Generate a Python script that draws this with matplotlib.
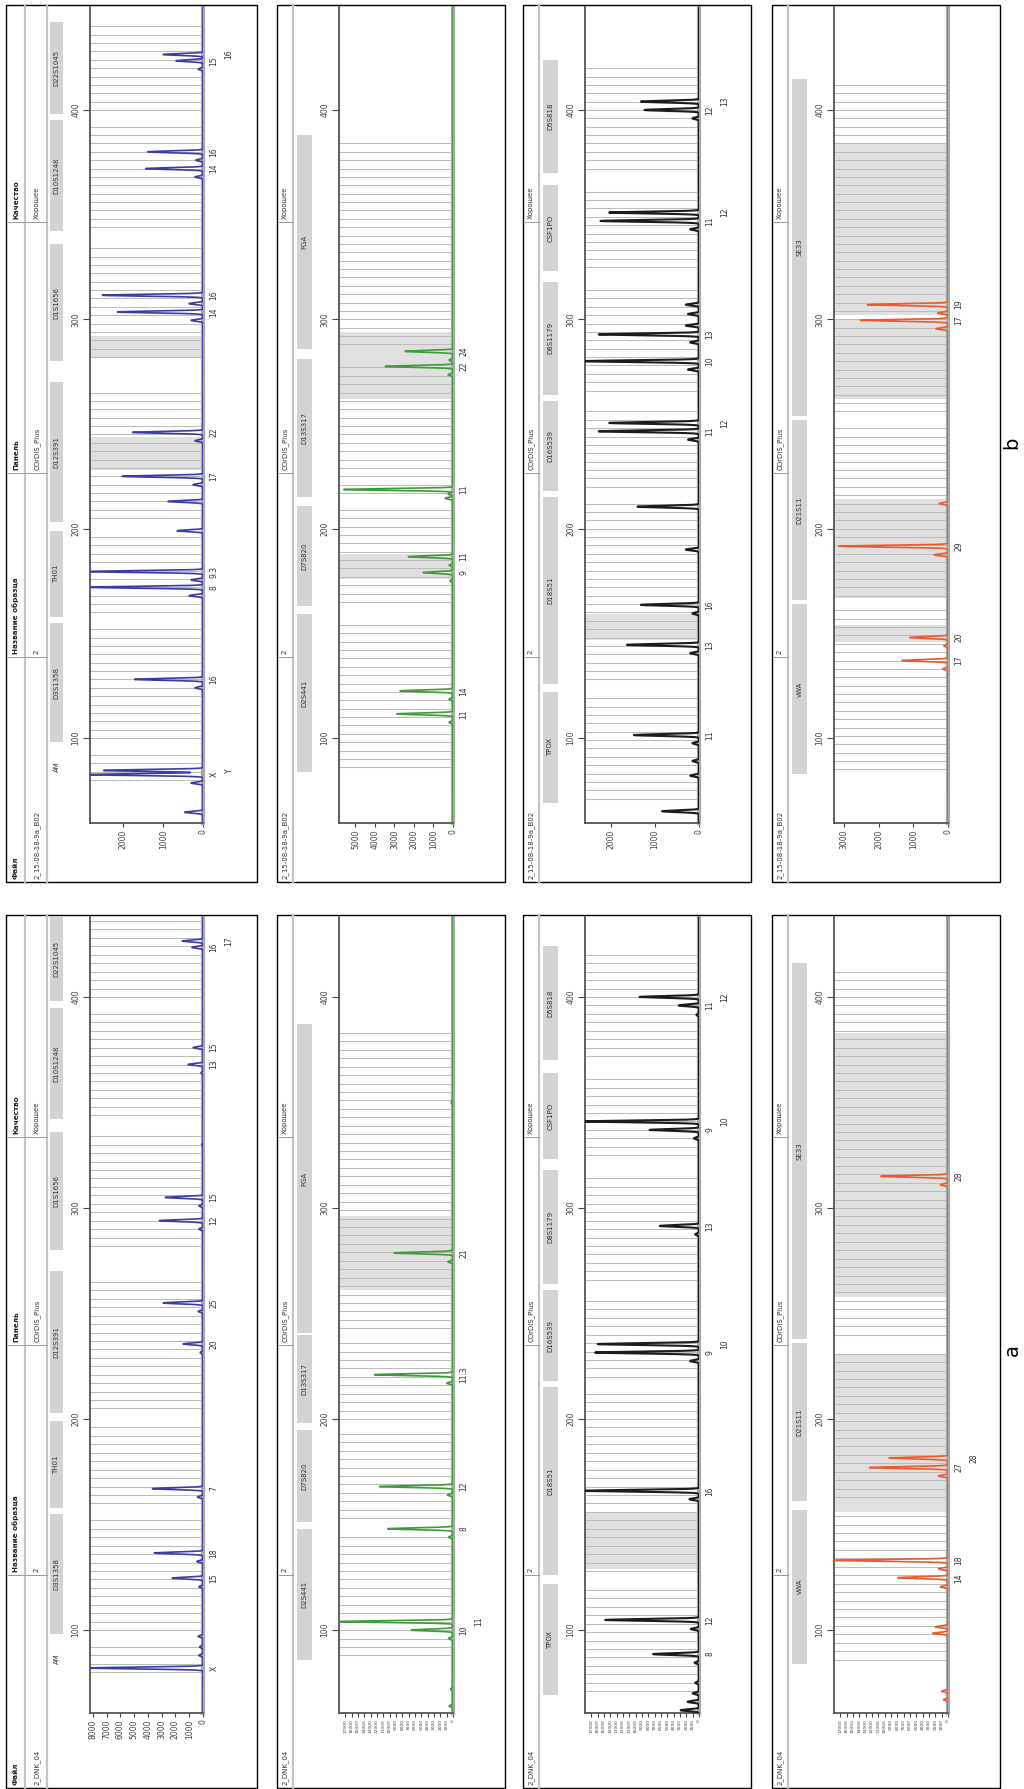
import numpy as np
import matplotlib
matplotlib.use("Agg")
import matplotlib.pyplot as plt
from matplotlib.patches import Rectangle
from matplotlib.lines import Line2D
from matplotlib.transforms import blended_transform_factory

plt.rcParams['font.family'] = ['Liberation Sans Narrow', 'DejaVu Sans']

# ---------------- data ----------------
TITLES = ['Файл', 'Название образца', 'Панель', 'Качество']
FILE_B = '2_15-08-18-9a_B02'
FILE_A = '2_DNK_04'
SAMPLE = '2'
KIT = 'COrDIS_Plus'
QUALITY = 'Хорошее'

BLUE_LOCI = ['AM', 'D3S1358', 'TH01', 'D12S391', 'D1S1656', 'D10S1248', 'D22S1045']
BLUE_RANGES = [(78, 95), (98, 155), (158, 199), (203, 270), (280, 336), (342, 395), (398, 442)]
GREEN_LOCI = ['D2S441', 'D7S820', 'D13S317', 'FGA']
GREEN_RANGES_B = [(84, 159), (163, 211), (215, 281), (286, 388)]
GREEN_RANGES_A = [(86, 148), (151, 195), (198, 240), (241, 387)]
BLACK_LOCI = ['TPOX', 'D18S51', 'D16S539', 'D8S1179', 'CSF1PO', 'D5S818']
BLACK_RANGES = [(69, 122), (126, 215), (218, 261), (264, 318), (323, 364), (370, 424)]
RED_LOCI = ['vWA', 'D21S11', 'SE33']
RED_RANGES_B = [(83, 164), (166, 252), (254, 415)]
RED_RANGES_A = [(84, 157), (161, 236), (238, 416)]

# sample b
B_BLUE_ALLELES = ['X', 'Y', '16', '8', '9.3', '17', '22', '14', '16', '14', '16', '15', '16']
B_BLUE_BP = [82.5, 84.5, 128, 172, 179.5, 225, 246, 303.5, 311.5, 372, 380, 423.5, 426.5]
B_BLUE_RFU = [2900, 2500, 1720, 2900, 2900, 2030, 1770, 2150, 2530, 1440, 1390, 680, 1000]
B_BLUE_MINOR_BP = [64.5, 78.5, 124, 168, 175.5, 199, 213, 221, 242, 299.5, 307.5, 368, 376, 419.5]
B_BLUE_MINOR_RFU = [460, 300, 200, 350, 300, 650, 880, 250, 200, 300, 350, 200, 180, 120]
B_BLUE_SHADE = [(228, 244), (282, 292)]
B_BLUE_TICKS = [0, 1000, 2000]

B_GREEN_ALLELES = ['11', '14', '9', '11', '11', '22', '24']
B_GREEN_BP = [111.5, 122.5, 179, 186.6, 218.7, 277.5, 284.7]
B_GREEN_RFU = [2880, 2710, 1530, 2290, 5600, 3470, 2460]
B_GREEN_MINOR_BP = [107.5, 118.5, 175, 182.5, 214.5, 216.5, 273.5, 280.5]
B_GREEN_MINOR_RFU = [200, 200, 150, 200, 400, 250, 250, 200]
B_GREEN_SHADE = [(262, 294), (176, 188)]
B_GREEN_TICKS = [0, 1000, 2000, 3000, 4000, 5000]

B_BLACK_ALLELES = ['11', '13', '16', '11', '12', '10', '13', '11', '12', '12', '13']
B_BLACK_BP = [101.4, 144.5, 163.6, 246.5, 250.5, 280, 292.8, 347, 351, 400, 404]
B_BLACK_RFU = [1480, 1640, 1320, 2280, 2040, 2640, 2280, 2240, 2040, 1240, 1320]
B_BLACK_MINOR_BP = [65, 82, 89, 97.5, 140.5, 159.5, 190, 210.5, 242.5, 276, 289, 297, 302.5, 307, 343, 396]
B_BLACK_MINOR_RFU = [840, 200, 150, 150, 200, 150, 300, 1400, 250, 250, 200, 300, 250, 300, 200, 150]
B_BLACK_SHADE = [(147, 159)]
B_BLACK_TICKS = [0, 1000, 2000]

B_RED_ALLELES = ['17', '20', '29', '17', '19']
B_RED_BP = [137, 148, 191.6, 299.5, 307]
B_RED_RFU = [1330, 1100, 3150, 2520, 2330]
B_RED_MINOR_BP = [133, 144, 187.5, 212, 295.5, 303]
B_RED_MINOR_RFU = [150, 120, 400, 250, 350, 300]
B_RED_SHADE = [(146, 154), (167, 214), (262, 300), (302, 384)]
B_RED_TICKS = [0, 1000, 2000, 3000]

# sample a
A_BLUE_ALLELES = ['X', '15', '18', '7', '20', '25', '12', '15', '13', '15', '16', '17']
A_BLUE_BP = [82, 124.6, 136.5, 167, 235.6, 255, 294, 305, 368, 376, 423.5, 426.5]
A_BLUE_RFU = [8200, 2230, 3530, 3670, 1440, 2880, 3170, 2740, 1080, 720, 800, 1510]
A_BLUE_MINOR_BP = [88, 92, 97, 120.5, 132.5, 163, 231.5, 251, 290, 301, 330, 364]
A_BLUE_MINOR_RFU = [300, 250, 350, 300, 450, 400, 200, 350, 300, 300, 100, 150]
A_BLUE_SHADE = []
A_BLUE_TICKS = [0, 1000, 2000, 3000, 4000, 5000, 6000, 7000, 8000]

A_GREEN_ALLELES = ['10', '11', '8', '12', '11.3', '21']
A_GREEN_BP = [100, 104, 148, 168, 221, 278.7]
A_GREEN_RFU = [6600, 18000, 10300, 11600, 12400, 9300]
A_GREEN_MINOR_BP = [64, 72, 96, 144, 164, 217, 274.5, 350]
A_GREEN_MINOR_RFU = [600, 400, 700, 700, 900, 1000, 800, 300]
A_GREEN_SHADE = [(261, 296)]

A_BLACK_ALLELES = ['8', '12', '16', '9', '10', '13', '9', '10', '11', '12']
A_BLACK_BP = [88.6, 104.8, 166, 231.5, 235.5, 291.5, 337, 341, 396, 400]
A_BLACK_RFU = [7250, 14800, 18000, 16400, 16000, 6200, 7800, 18000, 3200, 9400]
A_BLACK_MINOR_BP = [62, 66, 70, 75, 84.5, 100.5, 162, 227.5, 287.5, 333, 391.5]
A_BLACK_MINOR_RFU = [2900, 1800, 1000, 600, 700, 1300, 1500, 1400, 600, 800, 400]
A_BLACK_SHADE = [(129, 156)]

A_RED_ALLELES = ['14', '18', '27', '28', '28']
A_RED_BP = [124.8, 133, 177, 181.5, 315]
A_RED_RFU = [7900, 18000, 12400, 9300, 10600]
A_RED_MINOR_BP = [67, 71, 98.5, 101.5, 120.5, 129, 173, 311]
A_RED_MINOR_RFU = [700, 1000, 2400, 2000, 1200, 1500, 1500, 1200]
A_RED_SHADE = [(156, 231), (258, 383)]

A_DENSE_TICKS = list(range(0, 18000, 1000))

COLORS = ['#3a3ca6', '#3f9b37', '#1c1c1c', '#ec5a2e']

# ---------------- layout (pixels) ----------------
W, H = 1024, 1789
COL_X = [(6, 257), (277, 505), (523, 751), (772, 1000)]
ROWS = {
    'b': dict(top=5, bottom=882, plot_top=7, plot_bottom=823, bp=(59.4, 449.2),
              file=FILE_B, bounds=(657, 473, 222), label_y=443),
    'a': dict(top=915, bottom=1788, plot_top=917, plot_bottom=1713, bp=(60.7, 437.9),
              file=FILE_A, bounds=(1575, 1345, 1137), label_y=1350),
}


def fx(px):
    return px / W


def fy(py):
    return 1 - py / H


fig = plt.figure(figsize=(W / 100, H / 100), dpi=100)
fig.patch.set_facecolor('white')


def draw_header(row, col):
    L, R = COL_X[col]
    T, B = row['top'], row['bottom']
    first = col == 0
    vals = [row['file'], SAMPLE, KIT, QUALITY]
    starts = [B - 3] + [b - 3 for b in row['bounds']]
    if first:
        val_x = L + 31
        lines = [L + 19, L + 41]
        for t, s in zip(TITLES, starts):
            fig.text(fx(L + 10), fy(s), t, rotation=90, ha='center', va='bottom',
                     fontsize=5.2, fontweight='bold', color='#222')
    else:
        val_x = L + 8
        lines = [L + 16]
    for v, s in zip(vals, starts):
        fig.text(fx(val_x), fy(s), v, rotation=90, ha='center', va='bottom',
                 fontsize=5.0, color='#333')
    for x in lines:
        fig.add_artist(Line2D([fx(x), fx(x)], [fy(T), fy(B)], transform=fig.transFigure,
                              color='#c4c4c4', lw=1.6))
    for b in row['bounds']:
        fig.add_artist(Line2D([fx(L + 2), fx(lines[-1])], [fy(b), fy(b)],
                              transform=fig.transFigure, color='#999999', lw=0.7))
    fig.add_artist(Rectangle((fx(L), fy(B)), (R - L) / W, (B - T) / H, fill=False,
                             edgecolor='black', lw=1.0, transform=fig.transFigure))


def draw_panel(row, col, loci, ranges, alleles, allele_bp, allele_rfu,
               minor_bp, minor_rfu, shade, ticks, rfu_max, color):
    L, R = COL_X[col]
    first = col == 0
    ax_l = L + (84 if first else 62)
    ax_r = L + (197 if first else 176)
    pt, pb = row['plot_top'], row['plot_bottom']
    ax = fig.add_axes([fx(ax_l), fy(pb), (ax_r - ax_l) / W, (pb - pt) / H])
    lo, hi = row['bp']

    for a, b in shade:
        ax.axhspan(a, b, color='#e0e0e0', lw=0, zorder=0)
    for a, b in ranges:
        ax.hlines(np.arange(a + 2, b - 1, 4.0), 0, rfu_max, color='#bcbcbc', lw=0.75, zorder=1)

    grid = np.linspace(lo, hi, 9000)
    sig = np.zeros_like(grid)
    for p, h in zip(list(allele_bp) + list(minor_bp), list(allele_rfu) + list(minor_rfu)):
        sig += h * np.exp(-0.5 * ((grid - p) / 0.42) ** 2)
    ax.plot(sig, grid, color=color, lw=1.5 if color == COLORS[2] else 1.2, zorder=3)

    ax.set_xlim(rfu_max, 0)
    ax.set_ylim(lo, hi)
    ax.set_yticks([100, 200, 300, 400])
    ax.set_xticks(ticks)
    ax.set_xticklabels([str(t) for t in ticks])
    dense = len(ticks) > 10
    ax.tick_params(axis='y', labelrotation=90, labelsize=5.5, length=5, pad=2, colors='#444')
    ax.tick_params(axis='x', labelrotation=90, labelsize=3.2 if dense else 5.5,
                   length=3, pad=1.5, colors='#444')
    for lab in ax.get_yticklabels():
        lab.set_va('center')
    ax.spines['top'].set_visible(False)
    for s in ('left', 'bottom'):
        ax.spines[s].set_color('#555555')
        ax.spines[s].set_linewidth(1.3)
    ax.spines['right'].set_color('#a8a8a8')
    ax.spines['right'].set_linewidth(3)

    # allele calls to the right of the baseline
    tr = blended_transform_factory(ax.transAxes, ax.transData)
    w = ax_r - ax_l
    prev, prev_line = None, 0
    for lab, p in sorted(zip(alleles, allele_bp), key=lambda t: t[1]):
        line = 1 if (prev is not None and p - prev < 6 and prev_line == 0) else 0
        ax.text(1 + (11 + 15 * line) / w, p, lab, transform=tr, rotation=90, ha='center',
                va='center', fontsize=5.5, color='#333', clip_on=False)
        prev, prev_line = p, line

    # locus boxes (amelogenin is shown without a box), kept inside the panel
    trb = blended_transform_factory(fig.transFigure, ax.transData)
    bx0 = L + (44 if first else 20)
    bx1 = L + (57 if first else 35)
    for name, (a, b) in zip(loci, ranges):
        b = min(b, hi)
        if name != 'AM':
            fig.add_artist(Rectangle((fx(bx0), a), (bx1 - bx0) / W, b - a, transform=trb,
                                     facecolor='#d3d3d3', edgecolor='none'))
        fig.text(fx((bx0 + bx1) / 2), (a + b) / 2, name, transform=trb, rotation=90,
                 ha='center', va='center', fontsize=5.0, color='#333')


rb, ra = ROWS['b'], ROWS['a']
panels = [
    (rb, 0, BLUE_LOCI, BLUE_RANGES, B_BLUE_ALLELES, B_BLUE_BP, B_BLUE_RFU,
     B_BLUE_MINOR_BP, B_BLUE_MINOR_RFU, B_BLUE_SHADE, B_BLUE_TICKS, 2840),
    (rb, 1, GREEN_LOCI, GREEN_RANGES_B, B_GREEN_ALLELES, B_GREEN_BP, B_GREEN_RFU,
     B_GREEN_MINOR_BP, B_GREEN_MINOR_RFU, B_GREEN_SHADE, B_GREEN_TICKS, 5840),
    (rb, 2, BLACK_LOCI, BLACK_RANGES, B_BLACK_ALLELES, B_BLACK_BP, B_BLACK_RFU,
     B_BLACK_MINOR_BP, B_BLACK_MINOR_RFU, B_BLACK_SHADE, B_BLACK_TICKS, 2590),
    (rb, 3, RED_LOCI, RED_RANGES_B, B_RED_ALLELES, B_RED_BP, B_RED_RFU,
     B_RED_MINOR_BP, B_RED_MINOR_RFU, B_RED_SHADE, B_RED_TICKS, 3290),
    (ra, 0, BLUE_LOCI, BLUE_RANGES, A_BLUE_ALLELES, A_BLUE_BP, A_BLUE_RFU,
     A_BLUE_MINOR_BP, A_BLUE_MINOR_RFU, A_BLUE_SHADE, A_BLUE_TICKS, 8200),
    (ra, 1, GREEN_LOCI, GREEN_RANGES_A, A_GREEN_ALLELES, A_GREEN_BP, A_GREEN_RFU,
     A_GREEN_MINOR_BP, A_GREEN_MINOR_RFU, A_GREEN_SHADE, A_DENSE_TICKS, 18000),
    (ra, 2, BLACK_LOCI, BLACK_RANGES, A_BLACK_ALLELES, A_BLACK_BP, A_BLACK_RFU,
     A_BLACK_MINOR_BP, A_BLACK_MINOR_RFU, A_BLACK_SHADE, A_DENSE_TICKS, 18000),
    (ra, 3, RED_LOCI, RED_RANGES_A, A_RED_ALLELES, A_RED_BP, A_RED_RFU,
     A_RED_MINOR_BP, A_RED_MINOR_RFU, A_RED_SHADE, A_DENSE_TICKS, 18000),
]

for p in panels:
    row, col = p[0], p[1]
    draw_header(row, col)
    draw_panel(*p, color=COLORS[col])

for key in ('b', 'a'):
    fig.text(fx(1012), fy(ROWS[key]['label_y']), key, rotation=90, ha='center', va='center',
             fontsize=14, color='black', family='DejaVu Sans')

fig.savefig('out.png', dpi=100, facecolor='white')
